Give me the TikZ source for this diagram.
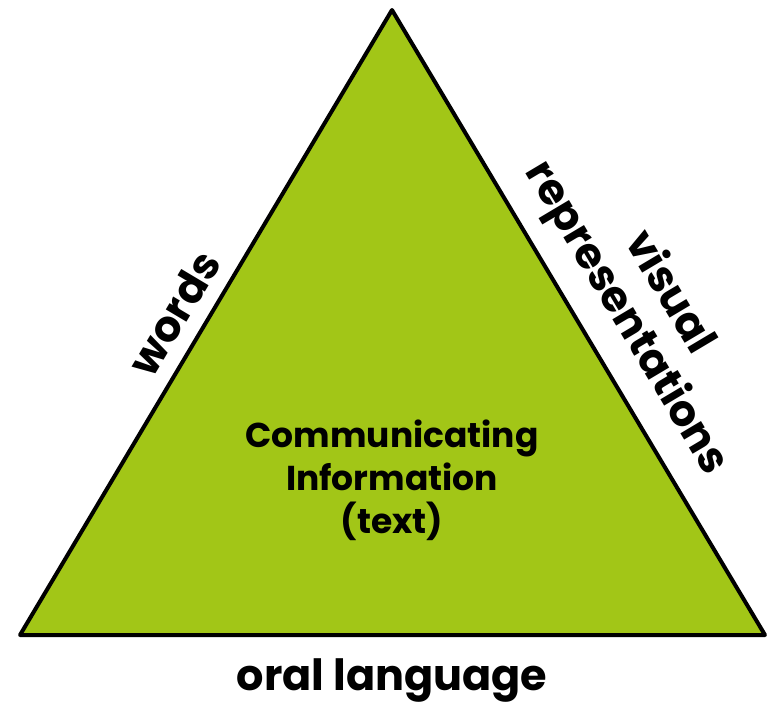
\documentclass[tikz,border=0pt]{standalone}
\usepackage{fontspec}
\setmainfont{Poppins}
\definecolor{leaf}{HTML}{A2C617}
\begin{document}
\begin{tikzpicture}[x=1pt,y=-1pt,
  edge label/.style={font=\fontsize{43}{50}\selectfont\bfseries, inner sep=0pt},
  mid label/.style={font=\fontsize{34.5}{43}\selectfont\bfseries, align=center, inner sep=0pt}]
\useasboundingbox (0,0) rectangle (770,704);
\coordinate (A) at (392,10);
\coordinate (B) at (20,635);
\coordinate (C) at (765,635);
\draw[line width=4pt, line join=round, fill=leaf] (A) -- (B) -- (C) -- cycle;
\node[mid label] (mid) at (392,480) {Communicating\\Information\\(text)};
\node[edge label] (oral) at (392,680) {oral language};
\node[edge label, rotate=59.2] (words) at (174,313) {words};
\node[edge label, align=center, rotate=-59.2] (visual) at (647,306) {visual\\representations};
\end{tikzpicture}
\end{document}
